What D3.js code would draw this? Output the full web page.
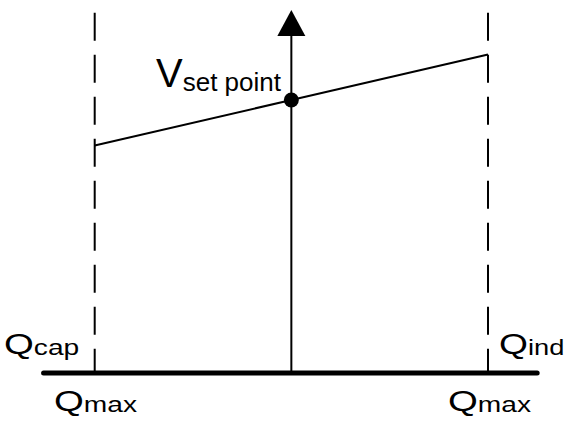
<!DOCTYPE html>
<html>
<head>
<meta charset="utf-8">
<script src="https://cdn.jsdelivr.net/npm/d3@7"></script>
<style>
  html, body { margin: 0; padding: 0; background: #fff; }
  svg { display: block; }
  text { font-family: "Liberation Sans", Arial, sans-serif; fill: #000; }
</style>
</head>
<body>
<div id="chart"></div>
<script>
// reactive power: -1 = Qmax capacitive, +1 = Qmax inductive
const qLimits = [-1, 1];
const axisExtent = [-1.26, 1.25];
// droop line (Q, V) in relative units
const droopQ = [-1, 0, 1];
const droopV = [0.625, 0.75, 0.875];
const setPoint = { q: 0, v: 0.75 };
const vTop = 0.997;
const limitTop = 0.99;

const width = 566, height = 421;

const svg = d3.select('#chart').append('svg')
    .attr('width', width)
    .attr('height', height);

const xscale = d3.scaleLinear()
    .domain(qLimits)
    .range([94.7, 488]);

const yscale = d3.scaleLinear()
    .domain([0, 1])
    .range([373, 9]);

// dashed limit lines
svg.selectAll('line.limit')
    .data(qLimits)
    .join('line')
    .attr('class', 'limit')
    .attr('x1', d => xscale(d))
    .attr('x2', d => xscale(d))
    .attr('y1', yscale(limitTop))
    .attr('y2', yscale(0))
    .attr('stroke', '#000')
    .attr('stroke-width', 2)
    .attr('stroke-dasharray', '28,14');

// droop characteristic
const line = d3.line()
    .x((d, i) => xscale(droopQ[i]))
    .y(d => yscale(d));

svg.append('path')
    .datum(droopV)
    .attr('d', line)
    .attr('fill', 'none')
    .attr('stroke', '#000')
    .attr('stroke-width', 2);

// vertical axis with arrow
const x0 = xscale(0);
const tip = yscale(vTop);
svg.append('line')
    .attr('x1', x0).attr('x2', x0)
    .attr('y1', yscale(0)).attr('y2', tip + 20)
    .attr('stroke', '#000')
    .attr('stroke-width', 2);

svg.append('path')
    .attr('d', `M${x0},${tip} L${x0 + 14},${tip + 26} L${x0 - 14},${tip + 26} Z`)
    .attr('fill', '#000');

// horizontal axis
svg.append('line')
    .attr('x1', xscale(axisExtent[0]))
    .attr('x2', xscale(axisExtent[1]))
    .attr('y1', yscale(0))
    .attr('y2', yscale(0))
    .attr('stroke', '#000')
    .attr('stroke-width', 5)
    .attr('stroke-linecap', 'round');

// set point
svg.append('circle')
    .attr('cx', xscale(setPoint.q))
    .attr('cy', yscale(setPoint.v))
    .attr('r', 7.5)
    .attr('fill', '#000');

const vLabel = svg.append('text')
    .attr('x', 156)
    .attr('y', 87);
vLabel.append('tspan')
    .attr('font-size', 40)
    .text('V');
vLabel.append('tspan')
    .attr('font-size', 26)
    .attr('dy', 4)
    .attr('dx', 0)
    .text('set point');

// Q labels
const qLabels = [
    { main: 'Q', sub: 'cap', x: 4, y: 354, sx: 1.28 },
    { main: 'Q', sub: 'ind', x: 499, y: 354, sx: 1.24 },
    { main: 'Q', sub: 'max', x: 54, y: 411, sx: 1.28 },
    { main: 'Q', sub: 'max', x: 448, y: 411, sx: 1.28 }
];

qLabels.forEach(d => {
    const t = svg.append('text')
        .attr('transform', `translate(${d.x},${d.y}) scale(${d.sx},1)`);
    t.append('tspan')
        .attr('font-size', 30)
        .text(d.main);
    t.append('tspan')
        .attr('font-size', 22)
        .attr('dy', 1)
        .text(d.sub);
});
</script>
</body>
</html>
